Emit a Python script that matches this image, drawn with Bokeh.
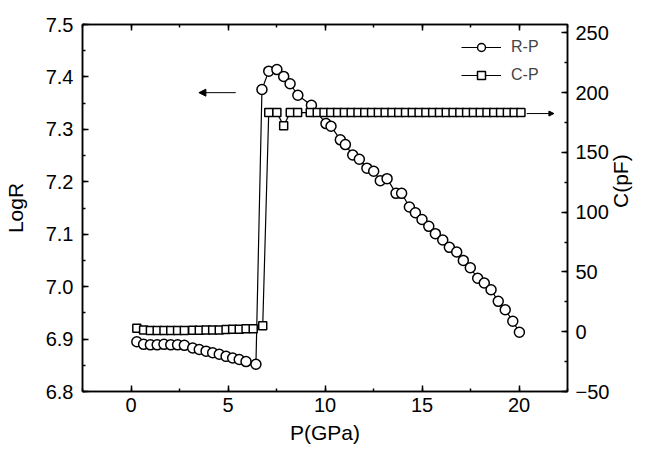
import math
from bokeh.plotting import figure
from bokeh.models import (Range1d, LinearAxis, Legend, LegendItem, Arrow, NormalHead, Label,
                          SingleIntervalTicker, PrintfTickFormatter)
from bokeh.embed import file_html
from bokeh.resources import INLINE

# ---- data ----
rp_p = [0.3, 0.65, 1.0, 1.35, 1.7, 2.05, 2.4, 2.75, 3.18, 3.52, 3.87, 4.21, 4.55, 4.9,
        5.24, 5.58, 5.93, 6.44,
        6.75, 7.1, 7.52, 7.87, 8.2, 8.6, 9.3, 10.05, 10.31, 10.79, 11.05, 11.43, 11.77,
        12.16, 12.51, 12.85, 13.2, 13.66, 13.95, 14.35, 14.66, 15.0, 15.35, 15.69, 16.07,
        16.41, 16.79, 17.13, 17.49, 17.87, 18.21, 18.56, 18.93, 19.29, 19.68, 20.02]
rp_logr = [6.895, 6.890, 6.889, 6.889, 6.890, 6.889, 6.889, 6.888, 6.883, 6.880, 6.877,
           6.874, 6.871, 6.867, 6.864, 6.861, 6.857, 6.852,
           7.376, 7.411, 7.414, 7.401, 7.387, 7.365, 7.346, 7.311, 7.306, 7.280, 7.271,
           7.251, 7.243, 7.226, 7.220, 7.202, 7.206, 7.178, 7.178, 7.152, 7.141, 7.128,
           7.115, 7.101, 7.089, 7.075, 7.066, 7.050, 7.036, 7.016, 7.007, 6.994, 6.972,
           6.956, 6.934, 6.913]

cp_p = [0.3, 0.65, 1.0, 1.35, 1.7, 2.05, 2.4, 2.75, 3.18, 3.52, 3.87, 4.21, 4.55, 4.9,
        5.24, 5.58, 5.93, 6.3, 6.79,
        7.1, 7.52, 7.87, 8.21, 8.59, 9.24, 9.6, 9.95, 10.3, 10.65, 11.0, 11.35, 11.7,
        12.05, 12.4, 12.75, 13.1, 13.45, 13.8, 14.15, 14.5, 14.85, 15.2, 15.55, 15.9,
        16.25, 16.6, 16.95, 17.3, 17.65, 18.0, 18.35, 18.7, 19.05, 19.4, 19.75, 20.1]
cp_c = [3.0, 1.5, 1.0, 1.0, 1.0, 1.0, 1.0, 1.0, 1.2, 1.2, 1.5, 1.5, 1.5, 1.8, 2.0, 2.0,
        2.5, 2.5, 5.0,
        183.3, 183.3, 172.3, 183.3, 183.3, 183.3, 183.3, 183.3, 183.3, 183.3, 183.3,
        183.3, 183.3, 183.3, 183.3, 183.3, 183.3, 183.3, 183.3, 183.3, 183.3, 183.3,
        183.3, 183.3, 183.3, 183.3, 183.3, 183.3, 183.3, 183.3, 183.3, 183.3, 183.3,
        183.3, 183.3, 183.3, 183.3]

x_label = "P(GPa)"
yl_label = "LogR"
yr_label = "C(pF)"
series_names = ["R-P", "C-P"]

FONT = "Liberation Sans"

p = figure(width=646, height=449, output_backend="svg", toolbar_location=None,
           x_range=Range1d(-2.5, 22.5), y_range=Range1d(6.8, 7.5),
           min_border_left=82, min_border_right=79, min_border_top=24, min_border_bottom=58)
p.extra_y_ranges = {"c": Range1d(-50, 257)}
p.xgrid.visible = False
p.ygrid.visible = False
p.outline_line_color = "black"
p.outline_line_width = 1.5
p.background_fill_color = "white"
p.border_fill_color = "white"


def style_axis(ax, labels=True):
    ax.axis_line_color = "black"
    ax.axis_line_width = 1.5
    ax.major_tick_line_color = "black"
    ax.minor_tick_line_color = "black"
    ax.major_tick_line_width = 1.5
    ax.minor_tick_line_width = 1.5
    ax.major_tick_in = 6
    ax.major_tick_out = 0
    ax.minor_tick_in = 3
    ax.minor_tick_out = 0
    ax.major_label_text_font = FONT
    ax.axis_label_text_font = FONT
    ax.axis_label_text_font_style = "normal"
    ax.axis_label_text_color = "black"
    if labels:
        ax.major_label_text_color = "black"
        ax.major_label_text_font_size = "20px"
        ax.axis_label_text_font_size = "21px"
    else:
        ax.major_label_text_color = None
        ax.major_label_text_font_size = "10px"
        ax.major_label_standoff = 0


xax = p.xaxis[0]
xax.ticker = SingleIntervalTicker(interval=5, num_minor_ticks=2)
style_axis(xax)
xax.axis_label = x_label
xax.major_label_standoff = 6
xax.axis_label_standoff = 6

yax = p.yaxis[0]
yax.ticker = SingleIntervalTicker(interval=0.1, num_minor_ticks=2)
yax.formatter = PrintfTickFormatter(format="%.1f")
style_axis(yax)
yax.axis_label = yl_label
yax.major_label_standoff = 9
yax.axis_label_standoff = 16

rax = LinearAxis(y_range_name="c", ticker=SingleIntervalTicker(interval=50, num_minor_ticks=2))
style_axis(rax)
rax.major_label_standoff = 8
if "axis_label_orientation" in rax.properties():
    # right-hand title reading bottom-to-top, as in the reference
    rax.axis_label = yr_label
    rax.axis_label_standoff = 8
    rax.axis_label_orientation = math.pi / 2
else:
    p.add_layout(Label(x=547, y=184, x_units="screen", y_units="screen", text=yr_label,
                       angle=math.pi / 2, text_align="center", text_baseline="middle",
                       text_font=FONT, text_font_size="21px", text_color="black"))
p.add_layout(rax, "right")

tax = LinearAxis(ticker=SingleIntervalTicker(interval=5, num_minor_ticks=2))
style_axis(tax, labels=False)
p.add_layout(tax, "above")

# lines first, then markers
l1 = p.line(rp_p, rp_logr, line_color="black", line_width=1.2)
l2 = p.line(cp_p, cp_c, y_range_name="c", line_color="black", line_width=1.2)
m1 = p.scatter(rp_p, rp_logr, marker="circle", size=10, fill_color="white",
               line_color="black", line_width=1.5)
m2 = p.scatter(cp_p, cp_c, y_range_name="c", marker="square", size=8, fill_color="white",
               line_color="black", line_width=1.5)

legend = Legend(items=[LegendItem(label=series_names[0], renderers=[l1, m1]),
                       LegendItem(label=series_names[1], renderers=[l2, m2])],
                location=(379, 306), padding=0, margin=0, spacing=8,
                glyph_width=40, glyph_height=20, label_height=20, label_standoff=10,
                border_line_color=None, background_fill_alpha=0,
                label_text_font=FONT, label_text_font_size="16px")
p.add_layout(legend)

# direction arrows
p.add_layout(Arrow(end=NormalHead(size=7, fill_color="black", line_color="black"),
                   x_start=5.4, y_start=7.37, x_end=3.5, y_end=7.37,
                   line_color="black", line_width=1))
p.add_layout(Arrow(end=NormalHead(size=5, fill_color="black", line_color="black"),
                   x_start=20.4, y_start=182.5, x_end=21.8, y_end=182.5,
                   y_range_name="c", line_color="black", line_width=1))

open("out.html", "w").write(file_html(p, INLINE))
